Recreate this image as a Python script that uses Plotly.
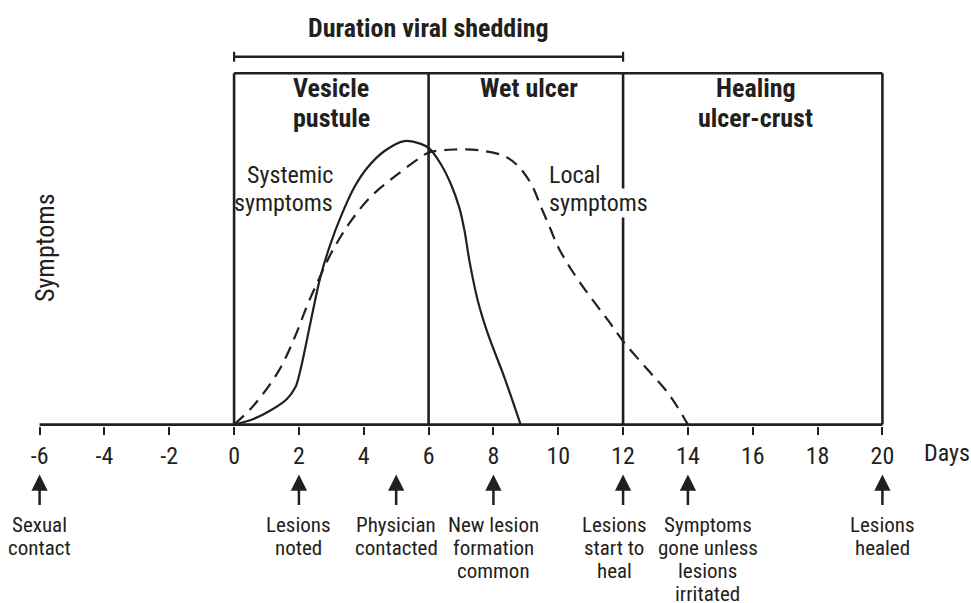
import plotly.graph_objects as go

# ---------------- data ----------------
tick_days = [-6, -4, -2, 0, 2, 4, 6, 8, 10, 12, 14, 16, 18, 20]
tick_labels = [str(d) for d in tick_days]

systemic_days = [0, 0.6, 1.12, 1.63, 1.89, 2.04, 2.2, 2.41, 2.66, 2.97, 3.28, 3.70,
                 4.11, 4.63, 5.25, 5.76, 6.02, 6.38, 6.69, 6.95, 7.11, 7.26, 7.52,
                 7.83, 8.34, 8.84]
systemic_vals = [0, 1.6, 4.0, 7.3, 10.6, 15.3, 22.0, 31.4, 41.9, 51.3, 58.9, 67.4,
                 73.1, 77.8, 80.7, 79.9, 78.6, 74.1, 68.4, 61.7, 55.1, 46.6, 35.2,
                 25.8, 13.4, 0]

local_days = [0, 0.6, 1.39, 1.89, 2.25, 2.64, 3.03, 3.57, 4.21, 4.94, 5.71, 6.0,
              6.80, 7.62, 8.34, 8.76, 9.17, 9.48, 9.74, 10.0, 10.41, 10.93, 11.55,
              12.03, 12.79, 13.41, 14.0]
local_vals = [0, 5.4, 15.5, 25.3, 33.8, 41.9, 49.4, 57.5, 64.8, 70.5, 75.8, 77.4,
              78.3, 78.0, 76.4, 73.6, 68.4, 61.7, 56.1, 50.5, 44.0, 37.1, 29.5,
              23.4, 15.3, 8.7, 0]

stage_edges = [0, 6, 12, 20]
stage_names = [["Vesicle", "pustule"], ["Wet ulcer"], ["Healing", "ulcer-crust"]]
stage_top = 100

shedding_span = [0, 12]
shedding_title = "Duration viral shedding"

systemic_label = ["Systemic", "symptoms"]
local_label = ["Local", "symptoms"]

event_days = [-6, 2, 5, 8, 12, 14, 20]
event_labels = [
    ["Sexual", "contact"],
    ["Lesions", "noted"],
    ["Physician", "contacted"],
    ["New lesion", "formation", "common"],
    ["Lesions", "start to", "heal"],
    ["Symptoms", "gone unless", "lesions", "irritated"],
    ["Lesions", "healed"],
]
event_label_shift = [0, 0, 0, 0, -9, 20, 0]

# ---------------- style ----------------
INK = "#231f20"
FONT = "Roboto Condensed, Liberation Sans, Arial, sans-serif"

fig = go.Figure()

fig.add_trace(go.Scatter(
    x=systemic_days, y=systemic_vals, mode="lines",
    line=dict(color=INK, width=2.2, shape="spline", smoothing=0.9),
    hoverinfo="skip", showlegend=False))
fig.add_trace(go.Scatter(
    x=local_days, y=local_vals, mode="lines",
    line=dict(color=INK, width=2.2, shape="spline", smoothing=1.0, dash="13px,8px"),
    hoverinfo="skip", showlegend=False))

shapes = []
shapes.append(dict(type="line", xref="x", yref="y", x0=tick_days[0], x1=tick_days[-1],
                   y0=0, y1=0, line=dict(color=INK, width=2.6), layer="above"))
for e in stage_edges:
    shapes.append(dict(type="line", xref="x", yref="y", x0=e, x1=e, y0=0, y1=stage_top,
                       line=dict(color=INK, width=2.6), layer="below"))
shapes.append(dict(type="line", xref="x", yref="y", x0=stage_edges[0], x1=stage_edges[-1],
                   y0=stage_top, y1=stage_top, line=dict(color=INK, width=2.6), layer="below"))
br_y = 104.7
shapes.append(dict(type="line", xref="x", yref="y", x0=shedding_span[0], x1=shedding_span[1],
                   y0=br_y, y1=br_y, line=dict(color=INK, width=2.4)))
for e in shedding_span:
    shapes.append(dict(type="line", xref="x", yref="y", x0=e, x1=e, y0=br_y - 1.4, y1=br_y + 1.4,
                       line=dict(color=INK, width=2.2)))

ann = []
ann.append(dict(x=sum(shedding_span) / 2, y=112.8, xref="x", yref="y", text="<b>" + shedding_title + "</b>",
                showarrow=False, font=dict(family=FONT, size=26, color=INK)))
stage_xshift = [0, 3, 3]
for i, lines in enumerate(stage_names):
    cx = (stage_edges[i] + stage_edges[i + 1]) / 2
    for j, line in enumerate(lines):
        ann.append(dict(x=cx, y=stage_top, xref="x", yref="y", yanchor="middle",
                        xshift=stage_xshift[i], yshift=-(15 + 30 * j),
                        text="<b>" + line + "</b>", showarrow=False,
                        font=dict(family=FONT, size=26, color=INK)))
for j, line in enumerate(systemic_label):
    ann.append(dict(x=3.12, y=0, xref="x", yref="y", xanchor="right", yanchor="middle",
                    yshift=250 - 28 * j, text=line, showarrow=False,
                    font=dict(family=FONT, size=24, color=INK)))
for j, line in enumerate(local_label):
    ann.append(dict(x=9.69, y=0, xref="x", yref="y", xanchor="left", yanchor="middle",
                    yshift=250 - 28 * j, text=line, showarrow=False,
                    bgcolor="white", borderpad=0,
                    font=dict(family=FONT, size=24, color=INK)))
ann.append(dict(x=-5.83, y=50.3, xref="x", yref="y", text="Symptoms", textangle=-90,
                showarrow=False, font=dict(family=FONT, size=26, color=INK)))
ann.append(dict(x=20, y=0, xref="x", yref="y", xanchor="left", yanchor="middle",
                xshift=40, yshift=-28, text="Days", showarrow=False,
                font=dict(family=FONT, size=24, color=INK)))
for d, lines, sh in zip(event_days, event_labels, event_label_shift):
    ann.append(dict(x=d, y=0, xref="x", yref="y", yshift=-50, text="", showarrow=True,
                    ax=0, ay=32, arrowhead=2, arrowsize=1.3, arrowwidth=2.5, arrowcolor=INK))
    for j, line in enumerate(lines):
        ann.append(dict(x=d, y=0, xref="x", yref="y", yanchor="middle",
                        xshift=sh, yshift=-(100 + 23.3 * j), text=line, showarrow=False,
                        font=dict(family=FONT, size=21, color=INK)))

fig.update_layout(
    width=971, height=603,
    margin=dict(l=37, r=86.4, t=2.6, b=176.6),
    paper_bgcolor="white", plot_bgcolor="white",
    shapes=shapes, annotations=ann,
    xaxis=dict(range=[-6.08, 20.08], showgrid=False, zeroline=False, showline=False,
               tickmode="array", tickvals=tick_days, ticktext=tick_labels,
               ticks="outside", ticklen=8, tickwidth=2.4, tickcolor=INK,
               ticklabelstandoff=0,
               tickfont=dict(family=FONT, size=24, color=INK), fixedrange=True),
    yaxis=dict(range=[-0.4, 120], showgrid=False, zeroline=False, showline=False,
               showticklabels=False, ticks="", fixedrange=True),
    showlegend=False,
)

fig.write_html("out.html", config={"displayModeBar": False},
               post_script="document.body.style.margin='0';")
